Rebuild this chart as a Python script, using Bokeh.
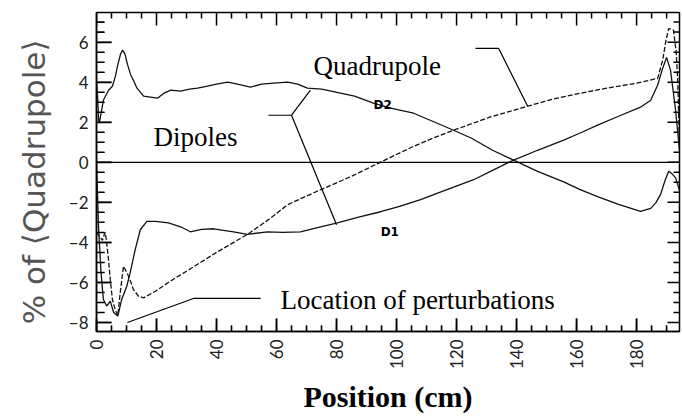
import math
from bokeh.plotting import figure
from bokeh.models import Range1d, FixedTicker, Span, Label
from bokeh.embed import file_html
from bokeh.resources import INLINE

# ---------------- data ----------------
d2_x = [0, 0.4, 0.7, 1.0, 2.3, 4.0, 5.3, 6.3, 7.0, 8.0, 8.7, 9.5, 10.3, 11.3, 12.3, 13.5,
        15.7, 18, 20.3, 22.5, 24.7, 28, 31, 33.7, 37, 40, 43.7, 47, 51.3, 55, 59, 63.7,
        67, 70.3, 75, 81.3, 86, 92.3, 98, 105.7, 112, 119, 125, 132, 139, 147, 155.7,
        161, 167, 174, 181.3, 184.7, 186.5, 188, 189.5, 190.7, 192, 193, 194.3]
d2_y = [4.0, 3.2, 2.1, 2.0, 3.1, 3.6, 3.8, 4.3, 4.8, 5.4, 5.6, 5.4, 4.9, 4.4, 4.1, 3.7,
        3.3, 3.25, 3.2, 3.45, 3.6, 3.55, 3.65, 3.7, 3.8, 3.9, 4.0, 3.9, 3.75, 3.9, 3.95, 4.0,
        3.9, 3.7, 3.65, 3.45, 3.3, 2.95, 2.7, 2.45, 2.05, 1.6, 1.2, 0.6, 0.11, -0.45, -0.98,
        -1.35, -1.71, -2.1, -2.45, -2.3, -2.0, -1.6, -0.9, -0.45, -0.6, -0.78, -1.4]

quad_x = [0, 1.0, 2.0, 2.6, 2.9, 3.3, 4.0, 4.6, 5.3, 6.2, 7.1, 7.9, 9.0, 10.7, 12.3, 14,
          15.7, 19.6, 25, 31.3, 40, 50.3, 57, 63.7, 69, 74.7, 85, 94.7, 105, 112, 119, 131,
          143.7, 152, 161.3, 170, 180, 187, 188.7, 189.8, 190.7, 192.3, 193.2, 193.7, 194.3]
quad_y = [-3.5, -3.7, -3.9, -3.6, -3.5, -3.9, -4.86, -5.86, -6.85, -7.35, -7.66, -6.52, -5.19,
          -5.69, -6.35, -6.69, -6.77, -6.44, -5.9, -5.32, -4.5, -3.6, -2.9, -2.12, -1.75,
          -1.37, -0.7, 0.01, 0.75, 1.2, 1.6, 2.25, 2.8, 3.15, 3.45, 3.7, 3.95, 4.19, 5.1,
          6.1, 6.68, 6.6, 5.5, 4.1, 1.0]

d1_x = [0, 0.7, 1.5, 2.3, 3.4, 4.6, 5.7, 7.1, 8.4, 10.1, 11.2, 12.9, 14.6, 16.8, 19.6, 24,
        28, 31.3, 35, 39, 45.7, 50.3, 57, 62, 68, 74, 80.3, 87, 94.7, 101, 108, 117, 125.7,
        132, 139, 147, 155.7, 161, 167, 174, 181.3, 184.7, 187, 188.7, 190, 191.3, 193, 194.3]
d1_y = [0.0, -3.3, -5.5, -6.85, -7.18, -6.93, -7.5, -7.68, -6.85, -6.19, -5.52, -4.36, -3.37,
        -2.95, -2.95, -3.03, -3.22, -3.47, -3.35, -3.32, -3.47, -3.6, -3.47, -3.5, -3.47,
        -3.25, -3.02, -2.75, -2.47, -2.2, -1.86, -1.35, -0.87, -0.4, 0.11, 0.6, 1.11, 1.45,
        1.86, 2.3, 2.75, 3.1, 3.85, 4.7, 5.24, 4.6, 2.6, 0.6]

x_ticks = [0, 20, 40, 60, 80, 100, 120, 140, 160, 180]
x_minor = [v * 5 for v in range(0, 39)]
y_ticks = [-8, -6, -4, -2, 0, 2, 4, 6]
y_minor = [v * 0.5 - 8.0 for v in range(0, 31)]

# ---------------- figure ----------------
X0, X1 = 0.0, 194.3
Y0, Y1 = -8.45, 7.48
FW, FH = 583, 320           # frame size in px
BL, BR, BT, BB = 96, 3, 12, 84

p = figure(width=BL + FW + BR, height=BT + FH + BB,
           x_range=Range1d(X0, X1), y_range=Range1d(Y0, Y1),
           output_backend="svg", toolbar_location=None,
           min_border_left=BL, min_border_right=BR, min_border_top=BT, min_border_bottom=BB)
p.grid.visible = False
p.background_fill_color = "white"
p.border_fill_color = "white"
p.outline_line_color = "black"
p.outline_line_width = 1.5

tick_font = "Lato"

xa = p.xaxis[0]
xa.ticker = FixedTicker(ticks=x_ticks, minor_ticks=x_minor)
xa.major_label_orientation = math.pi / 2
xa.major_label_text_font = tick_font
xa.major_label_text_font_size = "17px"
xa.major_label_text_color = "#222222"
xa.major_label_standoff = 8
xa.major_tick_in = 13
xa.major_tick_out = 0
xa.minor_tick_in = 6
xa.minor_tick_out = 0
xa.axis_line_color = "black"
xa.axis_line_width = 1.5
xa.major_tick_line_color = "#000000"
xa.minor_tick_line_color = "#000000"
xa.major_tick_line_width = 1.5
xa.minor_tick_line_width = 1.2
xa.axis_label = "Position (cm)"
xa.axis_label_text_font = "Liberation Serif"
xa.axis_label_text_font_style = "bold"
xa.axis_label_text_font_size = "30px"
xa.axis_label_text_color = "black"
xa.axis_label_standoff = 8

ya = p.yaxis[0]
ya.ticker = FixedTicker(ticks=y_ticks, minor_ticks=y_minor)
ya.major_label_text_font = tick_font
ya.major_label_text_font_size = "17px"
ya.major_label_text_color = "#222222"
ya.major_label_standoff = 8
ya.major_tick_in = 15
ya.major_tick_out = 0
ya.minor_tick_in = 8
ya.minor_tick_out = 0
ya.axis_line_color = "black"
ya.axis_line_width = 1.5
ya.major_tick_line_color = "#000000"
ya.minor_tick_line_color = "#000000"
ya.major_tick_line_width = 1.5
ya.minor_tick_line_width = 1.2
ya.axis_label = "%  of  \u27e8Quadrupole\u27e9"
ya.axis_label_text_font = "DejaVu Sans"
ya.axis_label_text_font_style = "normal"
ya.axis_label_text_font_size = "31px"
ya.axis_label_text_color = "#555555"
ya.axis_label_standoff = 14

# ---------------- inward ticks on top and right edges ----------------
px_x = FW / (X1 - X0)   # px per x unit
px_y = FH / (Y1 - Y0)   # px per y unit

tick_xs, tick_ys = [], []
def add_h(vals, length_px, side):
    L = length_px / px_x
    for v in vals:
        if side == "left":
            tick_xs.append([X0, X0 + L])
        else:
            tick_xs.append([X1, X1 - L])
        tick_ys.append([v, v])

def add_v(vals, length_px, side):
    L = length_px / px_y
    for v in vals:
        tick_xs.append([v, v])
        if side == "bottom":
            tick_ys.append([Y0, Y0 + L])
        else:
            tick_ys.append([Y1, Y1 - L])

y_minor_only = [v for v in y_minor if v not in y_ticks]
x_minor_only = [v for v in x_minor if v not in x_ticks]
add_h(y_ticks, 15, "left"); add_h(y_minor_only, 8, "left")
add_h(y_ticks, 12, "right"); add_h(y_minor_only, 6, "right")
add_v(x_ticks, 13, "bottom"); add_v(x_minor_only, 6, "bottom")
add_v(x_ticks, 13, "top"); add_v(x_minor_only, 6, "top")
p.multi_line(xs=tick_xs, ys=tick_ys, line_color="#000000", line_width=1.5)

# zero line
p.add_layout(Span(location=0, dimension="width", line_color="black", line_width=1.2))

# curves
p.line(d2_x, d2_y, line_color="#111111", line_width=1.3)
p.line(d1_x, d1_y, line_color="#111111", line_width=1.3)
p.line(quad_x, quad_y, line_color="#111111", line_width=1.3, line_dash="5 2")

# leader lines (annotation geometry)
p.line([126.3, 134.0, 143.7], [5.69, 5.69, 2.8], line_color="black", line_width=1.2)
p.line([57.3, 65.0, 71.3], [2.35, 2.35, 3.6], line_color="black", line_width=1.2)
p.line([65.0, 80.0], [2.35, -3.12], line_color="black", line_width=1.2)
p.line([54.7, 32.3, 10.3], [-6.8, -6.8, -8.0], line_color="black", line_width=1.2)

# text annotations
def add_label(x, y, text, font, size, style="normal"):
    p.add_layout(Label(x=x, y=y, text=text, text_font=font, text_font_size=size,
                       text_font_style=style, text_color="black",
                       text_align="left", text_baseline="alphabetic"))

add_label(72.3, 4.79, "Quadrupole", "Liberation Serif", "27px")
add_label(19.0, 1.26, "Dipoles", "Liberation Serif", "27px")
add_label(61.3, -6.9, "Location of perturbations", "Liberation Serif", "27px")
add_label(92.3, 2.85, "D2", "DejaVu Sans", "12px", "bold")
add_label(94.7, -3.47, "D1", "DejaVu Sans", "12px", "bold")

open("out.html", "w").write(file_html(p, INLINE))
